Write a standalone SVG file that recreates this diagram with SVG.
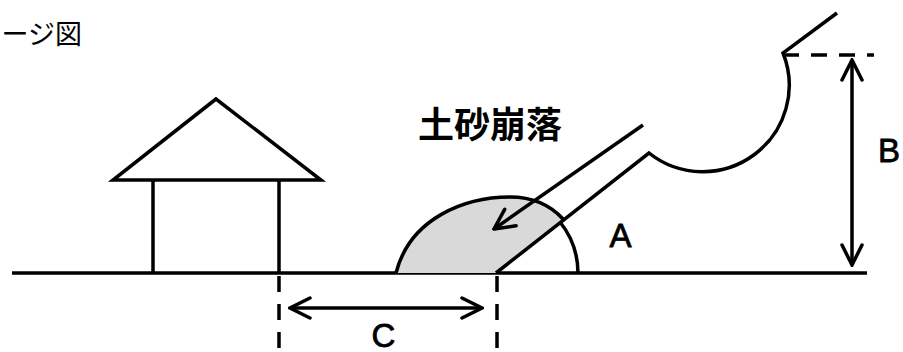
<svg xmlns="http://www.w3.org/2000/svg" width="903" height="352" viewBox="0 0 903 352">
<style>
.ln{fill:none;stroke:#000;stroke-width:3.5;stroke-linejoin:miter;stroke-linecap:butt}
.dash{fill:none;stroke:#000;stroke-width:3.5;stroke-dasharray:16 12}
.lbl{font-family:"Liberation Sans",Arial,sans-serif;font-size:33px;fill:#000;stroke:#000;stroke-width:0.8}
.jp{font-family:"Noto Sans CJK JP",sans-serif;fill:#000}
</style>
<defs>
<marker id="ah" viewBox="-24 -12 26 24" markerWidth="26" markerHeight="24" refX="0" refY="0" orient="auto-start-reverse" markerUnits="userSpaceOnUse">
<path d="M-20,-10 L0,0 L-20,10" fill="none" stroke="#000" stroke-width="3.5" stroke-linecap="round" stroke-linejoin="miter"/>
</marker>
</defs>
<rect width="903" height="352" fill="#fff"/>
<text x="82" y="44" text-anchor="end" class="jp" font-size="27">イメージ図</text>

<g id="ground">
<line class="ln" x1="12" y1="273" x2="867" y2="273"/>
</g>

<g id="house">
<polygon class="ln" points="216,99 113,180 321,180"/>
<line class="ln" x1="153" y1="180" x2="153" y2="273"/>
<line class="ln" x1="279" y1="180" x2="279" y2="273"/>
</g>

<g id="mound">
<path d="M396,273 C410,218 465,197 510,197 C535,197 552,207 563,219 L496,273 Z" fill="#d9d9d9" stroke="none"/>
<path class="ln" d="M396,273 C410,218 465,197 510,197 C535,197 552,207 563,219"/>
</g>

<g id="slope">
<path class="ln" d="M496,273 L649,153 A86.5,86.5 0 0 0 783,53 L837,13"/>
<path class="ln" d="M560,222 A82,82 0 0 1 578,273"/>
</g>

<g id="connectors">
<line class="ln" x1="643" y1="125" x2="494" y2="229" marker-end="url(#ah)"/>
<line class="ln" x1="290" y1="308" x2="482" y2="308" marker-start="url(#ah)" marker-end="url(#ah)"/>
<line class="ln" x1="852" y1="60" x2="852" y2="265" marker-start="url(#ah)" marker-end="url(#ah)"/>
<line class="dash" x1="279" y1="274" x2="279" y2="352" stroke-dashoffset="-2"/>
<line class="dash" x1="497" y1="274" x2="497" y2="352" stroke-dashoffset="-2"/>
<line class="dash" x1="783" y1="55" x2="874" y2="55" stroke-dasharray="15 13"/>
</g>

<g id="labels">
<text x="418" y="138" class="jp" font-size="36" font-weight="bold">土砂崩落</text>
<text x="620.5" y="247" text-anchor="middle" class="lbl">A</text>
<text x="878" y="162" class="lbl">B</text>
<text x="383.5" y="347" text-anchor="middle" class="lbl">C</text>
</g>
</svg>
